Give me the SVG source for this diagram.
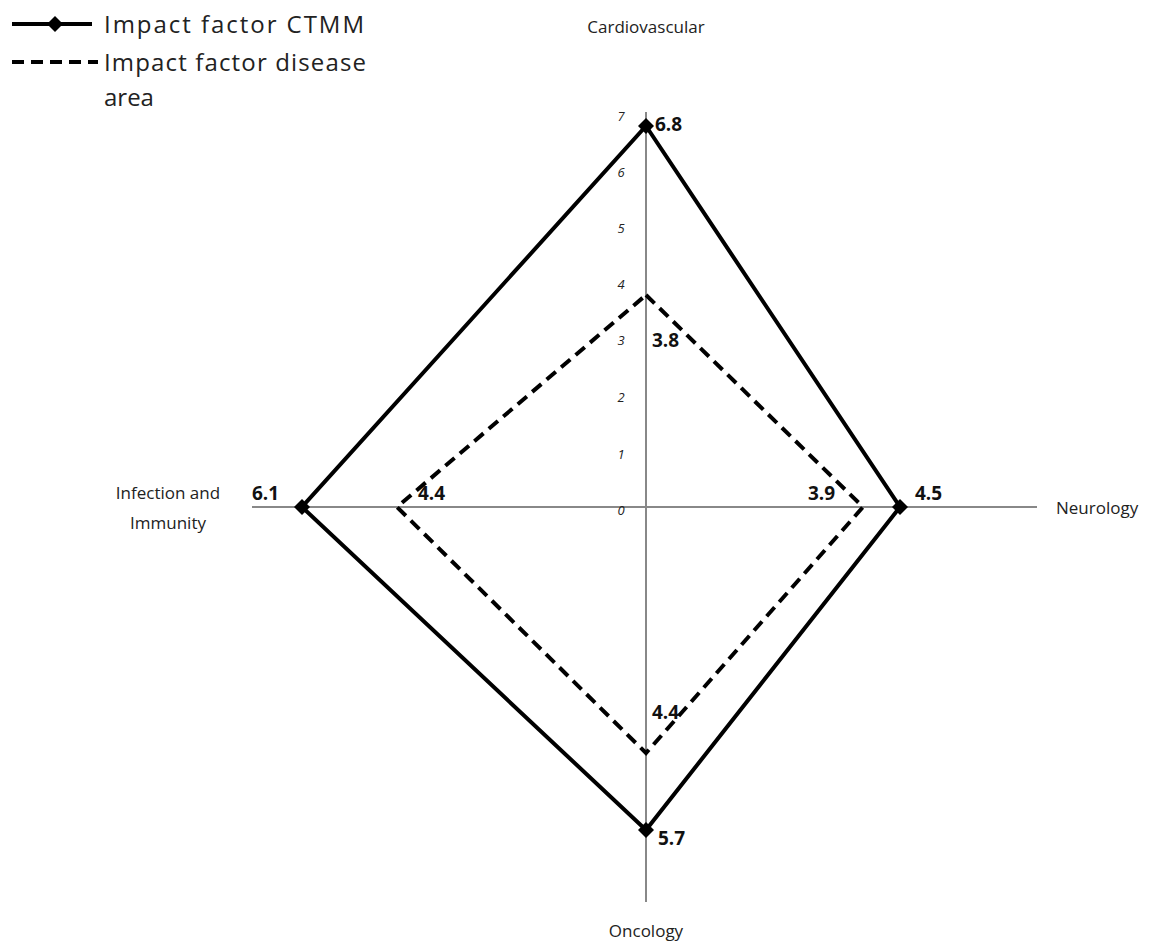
<svg xmlns="http://www.w3.org/2000/svg" width="1166" height="945" viewBox="0 0 1166 945">
<defs>
<style>
text{font-family:"Open Sans","Liberation Sans",sans-serif;fill:#222}
.ax{stroke:#888;stroke-width:2;fill:none}
.solid{stroke:#000;stroke-width:4;fill:none;stroke-linejoin:miter}
.dash{stroke:#000;stroke-width:4;fill:none;stroke-dasharray:12,7}
.lbl{font-size:17px}
.val{font-size:19px;font-weight:bold;fill:#111}
.tick{font-size:13px;font-style:italic;text-anchor:middle}
.leg{font-size:24px}
</style>
<path id="dm" d="M0,-8 L8,0 L0,8 L-8,0 Z" fill="#000"/>
</defs>
<g id="legend">
<line x1="12" y1="24" x2="92" y2="24" stroke="#000" stroke-width="4"/>
<use href="#dm" x="55" y="24"/>
<text class="leg" x="104" y="33" textLength="260" lengthAdjust="spacing">Impact factor CTMM</text>
<line x1="12" y1="62" x2="98" y2="62" class="dash" stroke-dasharray="11,6"/>
<text class="leg" x="104" y="71" textLength="262" lengthAdjust="spacing">Impact factor disease</text>
<text class="leg" x="104" y="106">area</text>
</g>
<g id="axes">
<line class="ax" x1="646" y1="112" x2="646" y2="902"/>
<line class="ax" x1="252" y1="507" x2="1037" y2="507"/>
<text class="tick" x="621" y="121">7</text>
<text class="tick" x="621" y="177">6</text>
<text class="tick" x="621" y="233">5</text>
<text class="tick" x="621" y="289">4</text>
<text class="tick" x="621" y="345">3</text>
<text class="tick" x="621" y="402">2</text>
<text class="tick" x="621" y="459">1</text>
<text class="tick" x="621" y="515">0</text>
</g>
<g id="connectors">
<polygon class="dash" points="646,295 863,507 646,753 397,507"/>
<polygon class="solid" points="646,126 900,507 646,830 302,507"/>
</g>
<g id="markers">
<use href="#dm" x="646" y="126"/>
<use href="#dm" x="900" y="507"/>
<use href="#dm" x="646" y="830"/>
<use href="#dm" x="302" y="507"/>
</g>
<g id="cardiovascular"><text class="lbl" x="646" y="33" text-anchor="middle">Cardiovascular</text></g>
<g id="neurology"><text class="lbl" x="1056" y="514">Neurology</text></g>
<g id="infection"><text class="lbl" x="168" y="499" text-anchor="middle">Infection and</text><text class="lbl" x="168" y="529" text-anchor="middle">Immunity</text></g>
<g id="oncology"><text class="lbl" x="646" y="937" text-anchor="middle">Oncology</text></g>
<g id="values">
<text class="val" x="655" y="131">6.8</text>
<text class="val" x="652" y="347">3.8</text>
<text class="val" x="808" y="500">3.9</text>
<text class="val" x="915" y="500">4.5</text>
<text class="val" x="252" y="500">6.1</text>
<text class="val" x="418" y="500">4.4</text>
<text class="val" x="652" y="719">4.4</text>
<text class="val" x="658" y="845">5.7</text>
</g>
</svg>
